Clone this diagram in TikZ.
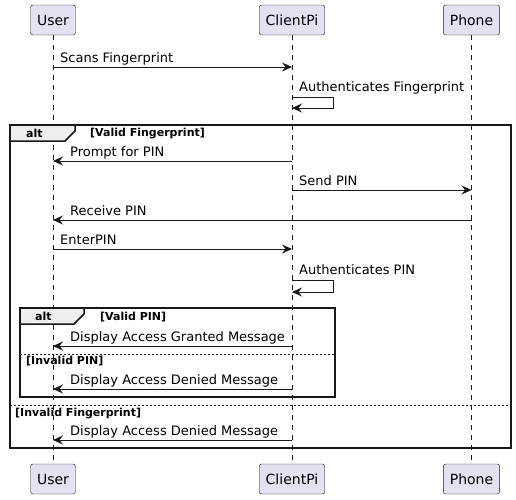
\documentclass[tikz,border=0pt]{standalone}
\usepackage{fontspec}
\setmainfont{DejaVu Sans}
\usetikzlibrary{calc}
\usetikzlibrary{positioning}
\usetikzlibrary{arrows.meta}

\definecolor{partfill}{HTML}{E2E2F0}
\definecolor{lineclr}{HTML}{181818}
\definecolor{tabfill}{HTML}{EEEEEE}

\begin{document}
\begin{tikzpicture}[x=1pt, y=-1pt,
    part/.style={draw=lineclr, fill=partfill, rounded corners=2.5pt, minimum height=30pt, inner xsep=6.5pt, font=\fontsize{14}{16}\selectfont},
    life/.style={draw=lineclr, dash pattern=on 5pt off 5pt, line width=0.5pt},
    msg/.style={-{Stealth[length=10pt, width=9pt, inset=3.5pt]}, draw=lineclr, line width=1pt},
    lbl/.style={font=\fontsize{13}{15}\selectfont, inner sep=0pt, anchor=base west},
    frm/.style={draw=lineclr, line width=1.5pt},
    sep/.style={draw=lineclr, line width=0.8pt, dash pattern=on 2pt off 2pt},
    grd/.style={font=\bfseries\fontsize{11}{13}\selectfont, inner sep=0pt, anchor=base west}]
    \useasboundingbox (0,0) rectangle (516,499);

    % participants
    \node[part] (Ut) at (53,20) {User};
    \node[part] (Ct) at (292,20) {ClientPi};
    \node[part] (Pt) at (471.5,20) {Phone};
    \node[part] (Ub) at (53,479) {User};
    \node[part] (Cb) at (292,479) {ClientPi};
    \node[part] (Pb) at (471.5,479) {Phone};

    \draw[life] (Ut) -- (Ub);
    \draw[life] (Ct) -- (Cb);
    \draw[life] (Pt) -- (Pb);

    % outer alt
    \draw[frm, fill=tabfill] (10,125) -- (75,125) -- (75,131) -- (65,141) -- (10,141) -- cycle;
    \draw[frm] (10,125) rectangle (511,448);
    \node[grd] (alt1) at (26,137) {alt};
    \node[grd] (g1) at (90,136) {[Valid Fingerprint]};
    \draw[sep] (10,405) -- (511,405);
    \node[grd] (g2) at (15,416) {[Invalid Fingerprint]};

    % inner alt
    \draw[frm, fill=tabfill] (20,308) -- (84,308) -- (84,314) -- (74,324) -- (20,324) -- cycle;
    \draw[frm] (20,308) rectangle (335,397);
    \node[grd] (alt2) at (35,320) {alt};
    \node[grd] (g3) at (100,320) {[Valid PIN]};
    \draw[sep] (20,354) -- (335,354);
    \node[grd] (g4) at (26,364) {[Invalid PIN]};

    % messages
    \node[lbl] (m1) at (60,62) {Scans Fingerprint};
    \draw[msg] (Ut |- 0,67) -- (Ct |- 0,67);

    \node[lbl] (m2) at (299,91) {Authenticates Fingerprint};
    \draw[msg] (Ct |- 0,97) -- (333,97) -- (333,108) -- (Ct |- 0,108);

    \node[lbl] (m3) at (70,156) {Prompt for PIN};
    \draw[msg] (Ct |- 0,161) -- (Ut |- 0,161);

    \node[lbl] (m4) at (299,185) {Send PIN};
    \draw[msg] (Ct |- 0,190) -- (Pt |- 0,190);

    \node[lbl] (m5) at (70,215) {Receive PIN};
    \draw[msg] (Pt |- 0,220) -- (Ut |- 0,220);

    \node[lbl] (m6) at (60,244) {EnterPIN};
    \draw[msg] (Ut |- 0,249) -- (Ct |- 0,249);

    \node[lbl] (m7) at (299,274) {Authenticates PIN};
    \draw[msg] (Ct |- 0,280) -- (333,280) -- (333,292) -- (Ct |- 0,292);

    \node[lbl] (m8) at (70,341) {Display Access Granted Message};
    \draw[msg] (Ct |- 0,346) -- (Ut |- 0,346);

    \node[lbl] (m9) at (70,384) {Display Access Denied Message};
    \draw[msg] (Ct |- 0,389) -- (Ut |- 0,389);

    \node[lbl] (m10) at (70,435) {Display Access Denied Message};
    \draw[msg] (Ct |- 0,440) -- (Ut |- 0,440);
\end{tikzpicture}
\end{document}
